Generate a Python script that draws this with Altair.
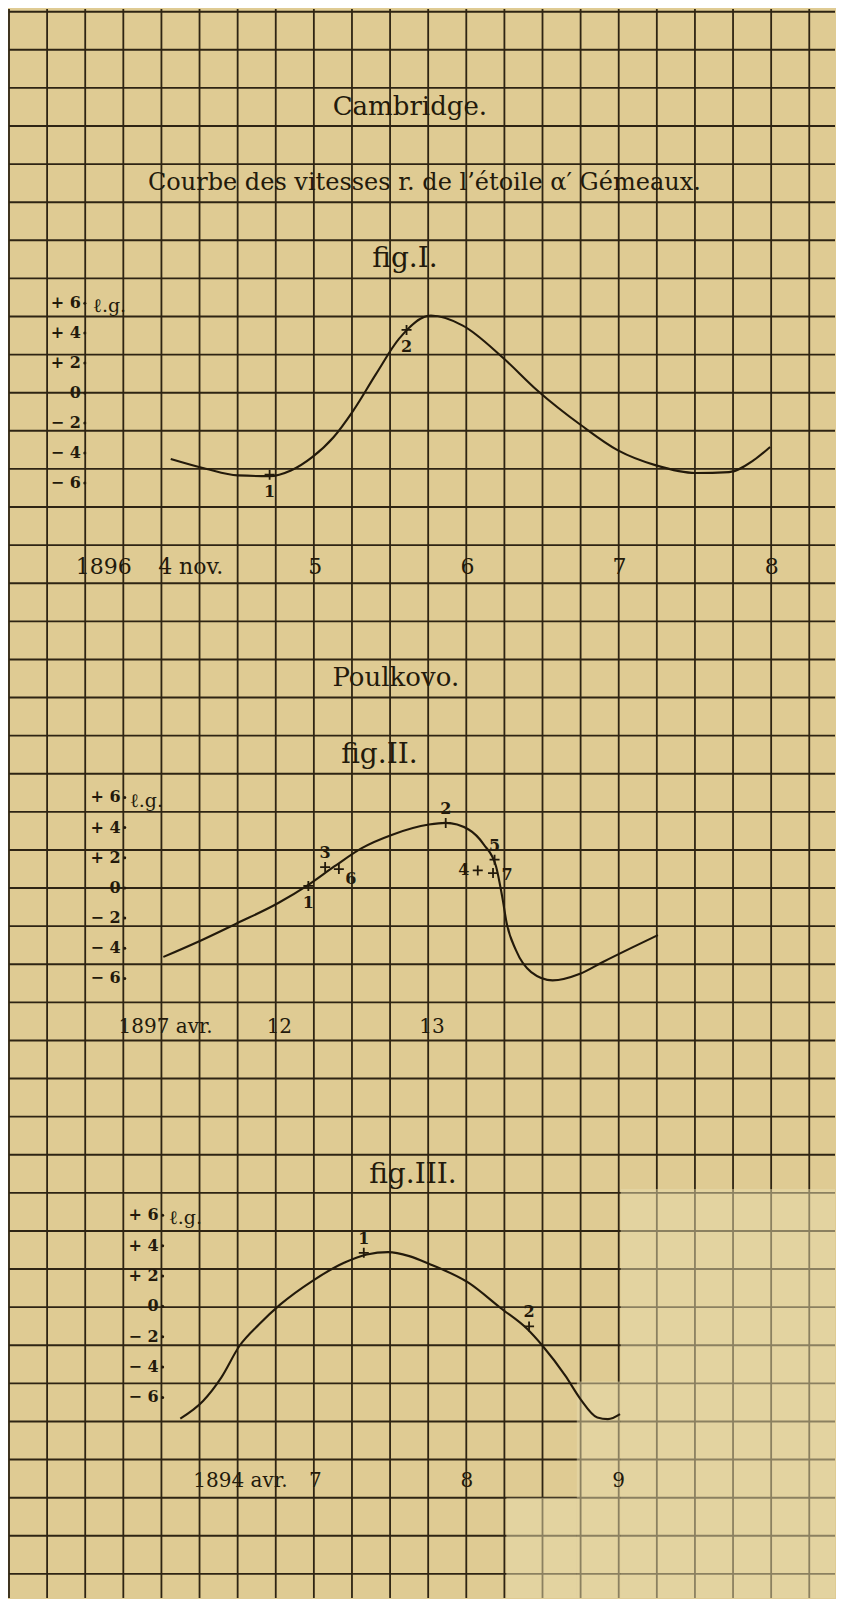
import altair as alt
import pandas as pd

INK = "#231a0b"
PAPER = "#dfcb93"
GRIDC = "#2e2413"
SERIF = "DejaVu Serif"

# ---------------- frame / graph-paper calibration (layout, not data) ----------------
W, H = 828, 1591          # plot size; page offset is 8px
OX, OY = 8, 8
CELL_X, CELL_Y = 38.2, 38.15
GRID_Y0 = 10.7            # page y of the first ruled line

# ---------------- data ----------------
grid_cols = list(range(22))      # ruled vertical lines of the paper
grid_rows = list(range(42))      # ruled horizontal lines of the paper

vel_ticks = [6, 4, 2, 0, -2, -4, -6]
vel_tick_labels = ["+ 6", "+ 4", "+ 2", "0", "\u2212 2", "\u2212 4", "\u2212 6"]

# fig. I  (Cambridge, 1896 nov.)
f1_day = [4.05, 4.28, 4.49, 4.70, 4.84, 4.98, 5.12, 5.25, 5.40, 5.55, 5.76, 5.97,
          6.23, 6.46, 6.75, 6.99, 7.24, 7.50, 7.72, 7.88, 7.99]
f1_vel = [-4.4, -5.05, -5.5, -5.55, -5.17, -4.28, -2.95, -1.17, 1.28, 3.61, 5.17, 4.5,
          2.39, 0.17, -2.17, -3.83, -4.83, -5.34, -5.28, -4.5, -3.6]
f1_pt_day = [4.70, 5.60]
f1_pt_vel = [-5.45, 4.21]
f1_pt_lab = ["1", "2"]
f1_pt_pos = ["below", "below"]
f1_xticks = [4, 5, 6, 7, 8]
f1_xlabels = ["4 nov.", "5", "6", "7", "8"]
f1_year = "1896"

# fig. II  (Poulkovo, 1897 avr.)
f2_day = [11.24, 11.49, 11.72, 11.99, 12.19, 12.36, 12.54, 12.74, 12.98, 13.09, 13.24,
          13.34, 13.42, 13.46, 13.49, 13.55, 13.65, 13.79, 13.97, 14.12, 14.32, 14.48]
f2_vel = [-4.58, -3.47, -2.36, -1.02, 0.2, 1.42, 2.64, 3.53, 4.2, 4.31, 3.87,
          2.87, 1.42, -0.58, -2.36, -4.13, -5.58, -6.13, -5.69, -4.91, -3.91, -3.13]
f2_pt_day = [12.19, 12.30, 12.39, 13.09, 13.30, 13.41, 13.40]
f2_pt_vel = [0.13, 1.38, 1.25, 4.31, 1.16, 1.87, 0.98]
f2_pt_lab = ["1", "3", "6", "2", "4", "5", "7"]
f2_pt_pos = ["below", "above", "belowright", "above", "left", "above", "right"]
f2_xticks = [12, 13]
f2_xlabels = ["12", "13"]
f2_year = "1897 avr."

# fig. III  (Poulkovo, 1894 avr.)
f3_day = [6.11, 6.26, 6.38, 6.50, 6.63, 6.77, 6.98, 7.19, 7.34, 7.48, 7.62, 7.76,
          8.01, 8.22, 8.40, 8.50, 8.65, 8.75, 8.86, 8.93, 9.01]
f3_vel = [-7.39, -6.23, -4.69, -2.61, -1.18, 0.13, 1.67, 2.87, 3.42, 3.57, 3.31, 2.76,
          1.56, -0.09, -1.51, -2.61, -4.58, -6.12, -7.32, -7.43, -7.1]
f3_pt_day = [7.32, 8.41]
f3_pt_vel = [3.53, -1.32]
f3_pt_lab = ["1", "2"]
f3_pt_pos = ["above", "above"]
f3_xticks = [7, 8, 9]
f3_xlabels = ["7", "8", "9"]
f3_year = "1894 avr."

# ---------------- styles ----------------
PLUS = "M-1,0L1,0M0,-1L0,1"
PLACE = {"below": (0, 17), "above": (0, -14), "left": (-14, 0),
         "right": (14, 2), "belowright": (12, 10)}

# graph-paper scales (cell units)
gxs = alt.Scale(domain=[0, W / CELL_X], nice=False, zero=False)
gys = alt.Scale(domain=[(OY - GRID_Y0) / CELL_Y, (OY + H - GRID_Y0) / CELL_Y],
                nice=False, zero=False, reverse=True)
XMAX = W / CELL_X
YMAX = (OY + H - GRID_Y0) / CELL_Y

one = pd.DataFrame({"k": [0]})


def note(text, gx, gy, size):
    return alt.Chart(pd.DataFrame({"t": [text]})).mark_text(
        font=SERIF, fontSize=size, color=INK, baseline="middle", align="center"
    ).encode(
        x=alt.XDatum(gx, type="quantitative", scale=gxs, axis=None),
        y=alt.YDatum(gy, type="quantitative", scale=gys, axis=None),
        text="t:N",
    )


def patch(x0, x1, y0, y1):
    return alt.Chart(one).mark_rect(color="#e8dbae", opacity=0.5).encode(
        x=alt.XDatum(x0, type="quantitative", scale=gxs, axis=None),
        x2=alt.X2Datum(x1),
        y=alt.YDatum(y0, type="quantitative", scale=gys, axis=None),
        y2=alt.Y2Datum(y1),
    )


vlines = alt.Chart(pd.DataFrame({"col": grid_cols})).mark_rule(
    color=GRIDC, strokeWidth=1.8
).encode(x=alt.X("col:Q", scale=gxs, axis=None))
hlines = alt.Chart(pd.DataFrame({"row": grid_rows})).mark_rule(
    color=GRIDC, strokeWidth=1.9
).encode(y=alt.Y("row:Q", scale=gys, axis=None))

paper = alt.layer(
    hlines,
    vlines,
    patch(16.05, XMAX, 30.9, YMAX),
    patch(14.9, 16.05, 35.95, YMAX),
    patch(13.05, 14.9, 39.0, YMAX),
    note("Cambridge.", 10.52, 2.5, 26),
    note("Courbe des vitesses r. de l\u2019\u00e9toile \u03b1\u2032 G\u00e9meaux.", 10.9, 4.49, 24),
    note("fig.I.", 10.39, 6.48, 28),
    note("Poulkovo.", 10.15, 17.5, 26),
    note("fig.II.", 9.72, 19.5, 28),
    note("fig.III.", 10.6, 30.52, 28),
)


def figure(day, vel, pday, pvel, plab, ppos, xticks, xlabels, year, cal):
    D0, P0, S, Z0, SV = cal["D0"], cal["P0"], cal["S"], cal["Z0"], cal["SV"]
    xs = alt.Scale(domain=[D0 - (P0 - OX) / S, D0 + (OX + W - P0) / S], nice=False, zero=False)
    ys = alt.Scale(domain=[(Z0 - (OY + H)) / SV, (Z0 - OY) / SV], nice=False, zero=False)
    axis_day = D0 + (cal["yline"] - P0) / S        # day under the ruled velocity axis
    label_vel = (Z0 - cal["xrow"]) / SV             # velocity of the date-label row
    year_day = D0 + (cal["yearx"] - P0) / S

    def X(f):
        return alt.X(f, scale=xs, axis=None)

    def Y(f):
        return alt.Y(f, scale=ys, axis=None)

    def XD(v):
        return alt.XDatum(v, type="quantitative", scale=xs, axis=None)

    def YD(v):
        return alt.YDatum(v, type="quantitative", scale=ys, axis=None)

    curve = alt.Chart(pd.DataFrame({"day": day, "vel": vel})).mark_line(
        interpolate="monotone", color=INK, strokeWidth=2.1
    ).encode(x=X("day:Q"), y=Y("vel:Q"))

    pts_df = pd.DataFrame({"day": pday, "vel": pvel, "lab": plab, "pos": ppos})
    pts = alt.Chart(pts_df).mark_point(
        shape=PLUS, filled=False, size=100, strokeWidth=1.8, color=INK, opacity=1
    ).encode(x=X("day:Q"), y=Y("vel:Q"))

    layers = [curve, pts]
    for p, (dx, dy) in PLACE.items():
        if p in ppos:
            layers.append(
                alt.Chart(pts_df).transform_filter(alt.datum.pos == p).mark_text(
                    font=SERIF, fontSize=16, fontWeight="bold", color=INK, dx=dx, dy=dy,
                    baseline="middle"
                ).encode(x=X("day:Q"), y=Y("vel:Q"), text="lab:N")
            )

    # velocity scale written along a ruled line
    vt = pd.DataFrame({"v": vel_ticks, "lab": vel_tick_labels})
    layers.append(
        alt.Chart(vt).mark_text(font=SERIF, fontSize=16, fontWeight="bold", color=INK,
                                align="right", baseline="middle", dx=-4)
        .encode(x=XD(axis_day), y=Y("v:Q"), text="lab:N")
    )
    layers.append(
        alt.Chart(vt).mark_point(shape="circle", filled=True, size=9, color=INK, opacity=1)
        .encode(x=XD(axis_day), y=Y("v:Q"))
    )
    layers.append(
        alt.Chart(pd.DataFrame({"t": ["\u2113.g."]})).mark_text(
            font=SERIF, fontSize=19, color=INK, align="left", baseline="middle",
            dx=cal["ldx"], dy=cal["ldy"])
        .encode(x=XD(axis_day), y=YD(vel_ticks[0]), text="t:N")
    )

    # date row
    xt = pd.DataFrame({"d": xticks, "lab": xlabels})
    first_left = cal.get("first_left", False)
    if first_left:
        layers.append(
            alt.Chart(xt).transform_filter(alt.datum.d == xticks[0]).mark_text(
                font=SERIF, fontSize=cal["xfs"], color=INK, align="left", baseline="middle", dx=-5)
            .encode(x=X("d:Q"), y=YD(label_vel), text="lab:N")
        )
        rest = alt.Chart(xt).transform_filter(alt.datum.d != xticks[0])
    else:
        rest = alt.Chart(xt)
    layers.append(
        rest.mark_text(font=SERIF, fontSize=cal["xfs"], color=INK, align="center", baseline="middle")
        .encode(x=X("d:Q"), y=YD(label_vel), text="lab:N")
    )
    layers.append(
        alt.Chart(pd.DataFrame({"t": [year]})).mark_text(
            font=SERIF, fontSize=cal["xfs"], color=INK, align="center", baseline="middle")
        .encode(x=XD(year_day), y=YD(label_vel), text="t:N")
    )
    return alt.layer(*layers)


fig1 = figure(f1_day, f1_vel, f1_pt_day, f1_pt_vel, f1_pt_lab, f1_pt_pos, f1_xticks, f1_xlabels, f1_year,
              dict(D0=5, P0=315, S=152.5, Z0=392.5, SV=15.0, xrow=567, xfs=22, first_left=True,
                   yearx=103, yline=84, ldx=8, ldy=3))
fig2 = figure(f2_day, f2_vel, f2_pt_day, f2_pt_vel, f2_pt_lab, f2_pt_pos, f2_xticks, f2_xlabels, f2_year,
              dict(D0=12, P0=279, S=153.0, Z0=888, SV=15.1, xrow=1027, xfs=20,
                   yearx=165, yline=124, ldx=5, ldy=4))
fig3 = figure(f3_day, f3_vel, f3_pt_day, f3_pt_vel, f3_pt_lab, f3_pt_pos, f3_xticks, f3_xlabels, f3_year,
              dict(D0=7, P0=315, S=152.0, Z0=1307, SV=15.2, xrow=1482, xfs=20,
                   yearx=240, yline=162, ldx=6, ldy=3))

chart = alt.layer(paper, fig1, fig2, fig3).resolve_scale(
    x="independent", y="independent"
).properties(
    width=W, height=H, padding=0,
    autosize=alt.AutoSizeParams(type="fit", contains="padding"),
    background=PAPER,
).configure_view(strokeWidth=0)

chart.save("out.html", embed_options={"renderer": "svg", "actions": False})
